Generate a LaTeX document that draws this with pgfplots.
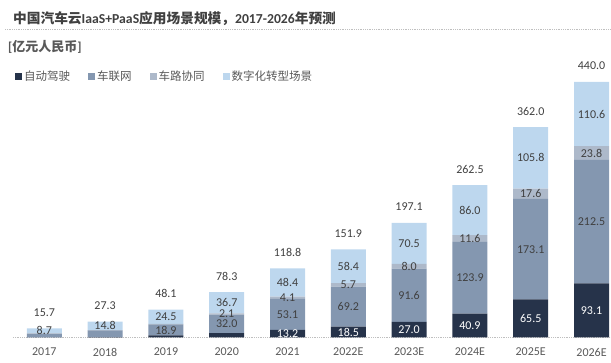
\documentclass[border=0pt]{standalone}
\usepackage{pgfplots}
\usepackage{pgfplotstable}
\pgfplotsset{compat=1.18}
\usepackage{fontspec}
\setmainfont{Carlito}
\newfontfamily\cjk{Noto Sans CJK SC}
\definecolor{cAuto}{HTML}{26334A}
\definecolor{cIvn}{HTML}{8497B0}
\definecolor{cV2x}{HTML}{ADB9CA}
\definecolor{cDig}{HTML}{BDD7EE}
\definecolor{cTxt}{HTML}{404040}
\definecolor{cGray}{HTML}{595959}
\pgfplotstableread{
x auto ivn v2x dig total
0 0.3 6.5 0.2 8.7 15.7
1 0.6 11.5 0.4 14.8 27.3
2 3.5 18.9 1.2 24.5 48.1
3 7.5 32.0 2.1 36.7 78.3
4 13.2 53.1 4.1 48.4 118.8
5 18.5 69.2 5.7 58.4 151.9
6 27.0 91.6 8.0 70.5 197.1
7 40.9 123.9 11.6 86.0 262.5
8 65.5 173.1 17.6 105.8 362.0
9 93.1 212.5 23.8 110.6 440.0
}\datatable
\pgfplotsset{
  common/.style={
    scale only axis, width=598pt, height=255.6pt,
    at={(13pt,25.5pt)}, anchor=south west,
    xmin=-0.515, xmax=9.32, ymin=0, ymax=440,
    clip=false,
  },
  lbl/.style={only marks, mark=none, point meta=explicit,
    nodes near coords={\pgfmathprintnumber[fixed,fixed zerofill,precision=1,assume math mode=true]{\pgfplotspointmeta}},
    every node near coord/.append style={anchor=center, inner sep=0pt, font=\fontsize{12}{14}\selectfont, text=cTxt}},
}
\begin{document}
\begin{tikzpicture}
\path[use as bounding box] (0,0) rectangle (611pt,363pt);
\node[anchor=west, text=cTxt, inner sep=0pt] at (13pt,344pt) {\fontsize{13.7}{15}\selectfont\bfseries{\cjk 中国汽车云}IaaS+PaaS{\cjk 应用场景规模，}2017-2026{\cjk 年预测}};
\draw[color=black!25, densely dotted, line width=0.8pt] (5pt,334pt) -- (611pt,334pt);
\node[anchor=west, text=cGray, inner sep=0pt] at (8pt,316pt) {\fontsize{13}{15}\selectfont\bfseries [{\cjk 亿元人民币}]};
\begin{axis}[common,
  ybar stacked, bar width=35pt,
  axis x line*=bottom, axis y line=none,
  x axis line style={draw=black!25, densely dotted, line width=0.8pt},
  xtick=data, xticklabels={2017,2018,2019,2020,2021,2022E,2023E,2024E,2025E,2026E},
  major tick length=0pt,
  xticklabel style={font=\fontsize{12}{14}\selectfont, text=cGray, yshift=-7pt},
  legend columns=4,
  legend style={at={(axis description cs:0.0033,1.023)}, anchor=west, draw=none, fill=none,
    inner sep=0pt, font=\cjk\fontsize{11.5}{13}\selectfont, text=cGray,
    /tikz/every even column/.append style={column sep=16pt}},
  legend image code/.code={\fill[#1,draw=none] (0pt,-3.5pt) rectangle (7pt,3.5pt);},
]
\addplot[fill=cAuto, draw=none] table[x=x, y=auto] {\datatable};
\addplot[fill=cIvn, draw=none] table[x=x, y=ivn] {\datatable};
\addplot[fill=cV2x, draw=none] table[x=x, y=v2x] {\datatable};
\addplot[fill=cDig, draw=none] table[x=x, y=dig] {\datatable};
\legend{自动驾驶,车联网,车路协同,数字化转型场景}
\end{axis}
\begin{axis}[common, hide axis]
\addplot[lbl, skip coords between index={0}{4},
  every node near coord/.append style={text=white}] table[x=x, y expr=\thisrow{auto}/2, meta=auto] {\datatable};
\addplot[lbl, skip coords between index={0}{2}] table[x=x, y expr=\thisrow{auto}+\thisrow{ivn}/2, meta=ivn] {\datatable};
\addplot[lbl, skip coords between index={0}{3}] table[x=x, y expr=\thisrow{auto}+\thisrow{ivn}+\thisrow{v2x}/2, meta=v2x] {\datatable};
\addplot[lbl] table[x=x, y expr=\thisrow{auto}+\thisrow{ivn}+\thisrow{v2x}+\thisrow{dig}/2, meta=dig] {\datatable};
\addplot[lbl, every node near coord/.append style={yshift=16pt}] table[x=x, y=total, meta=total] {\datatable};
\end{axis}
\end{tikzpicture}
\end{document}
